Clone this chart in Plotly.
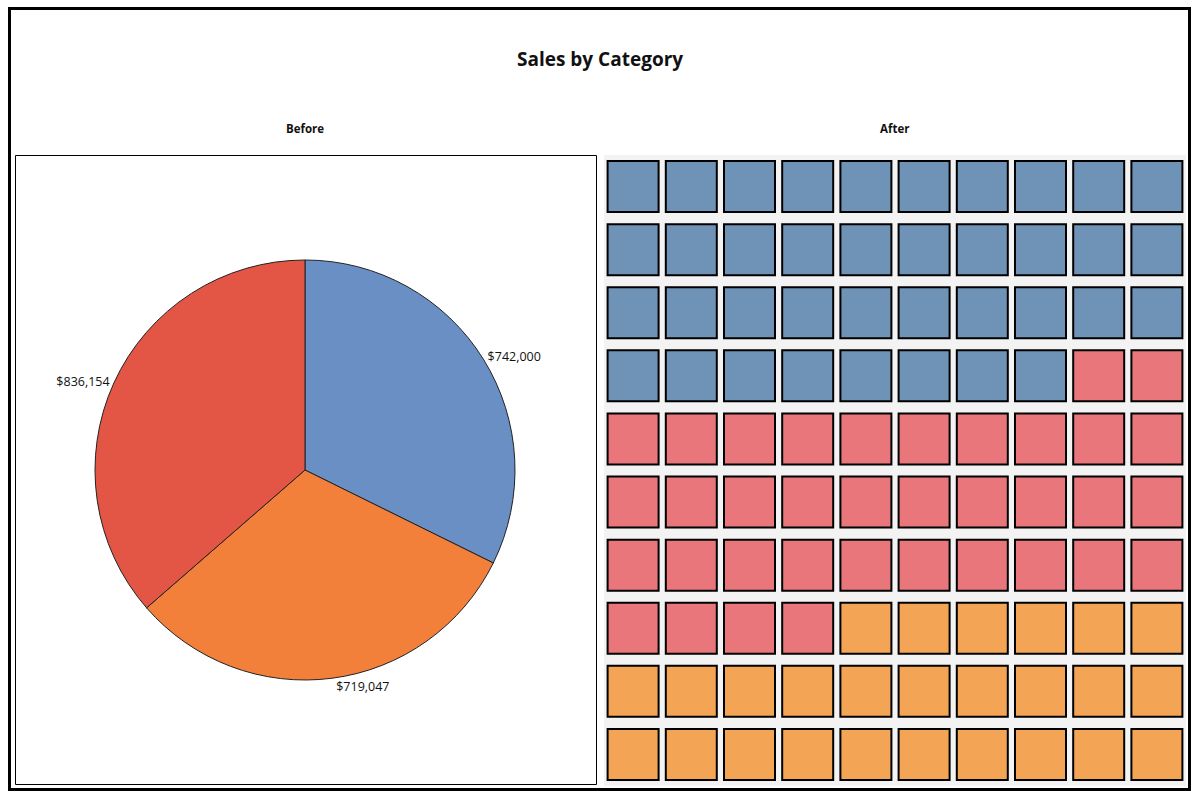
import plotly.graph_objects as go

# ---- data ----
categories = ["Furniture", "Office Supplies", "Technology"]
sales = [742000, 719047, 836154]
pie_colors = ["#6a8fc4", "#f2803a", "#e35646"]

waffle_order = ["Furniture", "Technology", "Office Supplies"]
waffle_counts = [38, 36, 26]
waffle_colors = ["#6f93b7", "#e8767a", "#f3a455"]
n_cols = 10
n_rows = 10

W, H = 1200, 800

fig = go.Figure()

# ---- pie ("Before") ----
fig.add_trace(go.Pie(
    labels=categories,
    values=sales,
    text=[f"${v:,}" for v in sales],
    textinfo="text",
    textposition="outside",
    textfont=dict(family="Open Sans", size=12.5, color="#111111"),
    marker=dict(colors=pie_colors, line=dict(color="#222222", width=1)),
    sort=False,
    direction="clockwise",
    rotation=0,
    showlegend=False,
    hoverinfo="label+value",
    domain=dict(x=[95 / W, 515 / W], y=[1 - 680 / H, 1 - 260 / H]),
))

# ---- waffle ("After") ----
idx = 0
for cat, cnt, col in zip(waffle_order, waffle_counts, waffle_colors):
    xs, ys = [], []
    for k in range(idx, idx + cnt):
        xs.append(k % n_cols)
        ys.append(k // n_cols)
    idx += cnt
    fig.add_trace(go.Scatter(
        x=xs, y=ys, mode="markers", name=cat, showlegend=False,
        marker=dict(symbol="square", size=51, color=col,
                    line=dict(color="black", width=2)),
        hovertemplate=cat + "<extra></extra>",
        xaxis="x", yaxis="y",
    ))

fig.update_layout(
    width=W, height=H,
    margin=dict(l=0, r=0, t=0, b=0),
    paper_bgcolor="white",
    plot_bgcolor="#f3f3f3",
    font=dict(family="Open Sans", color="#111111"),
    xaxis=dict(domain=[604 / W, 1186 / W], range=[-0.5, n_cols - 0.5],
               showgrid=False, zeroline=False, showticklabels=False,
               ticks="", fixedrange=True),
    yaxis=dict(domain=[1 - 786 / H, 1 - 155 / H], range=[n_rows - 0.5, -0.5],
               showgrid=False, zeroline=False, showticklabels=False,
               ticks="", fixedrange=True),
    shapes=[
        dict(type="rect", xref="paper", yref="paper",
             x0=9.5 / W, x1=1189.5 / W, y0=1 - 789.5 / H, y1=1 - 8.5 / H,
             line=dict(color="black", width=3), fillcolor="rgba(0,0,0,0)",
             layer="above"),
        dict(type="rect", xref="paper", yref="paper",
             x0=15.5 / W, x1=596.5 / W, y0=1 - 784.5 / H, y1=1 - 155.5 / H,
             line=dict(color="black", width=1), fillcolor="rgba(0,0,0,0)",
             layer="below"),
    ],
    annotations=[
        dict(text="<b>Sales by Category</b>", x=600 / W, y=1 - 59 / H,
             xref="paper", yref="paper", showarrow=False,
             xanchor="center", yanchor="middle",
             font=dict(family="Open Sans", size=19, color="#111111")),
        dict(text="<b>Before</b>", x=305 / W, y=1 - 128 / H,
             xref="paper", yref="paper", showarrow=False,
             xanchor="center", yanchor="middle",
             font=dict(family="Open Sans", size=11.5, color="#111111")),
        dict(text="<b>After</b>", x=894 / W, y=1 - 128 / H,
             xref="paper", yref="paper", showarrow=False,
             xanchor="center", yanchor="middle",
             font=dict(family="Open Sans", size=11.5, color="#111111")),
    ],
)

fig.write_html(
    "out.html",
    config={"displayModeBar": False},
    post_script="document.body.style.margin='0';document.body.style.overflow='hidden';",
)
